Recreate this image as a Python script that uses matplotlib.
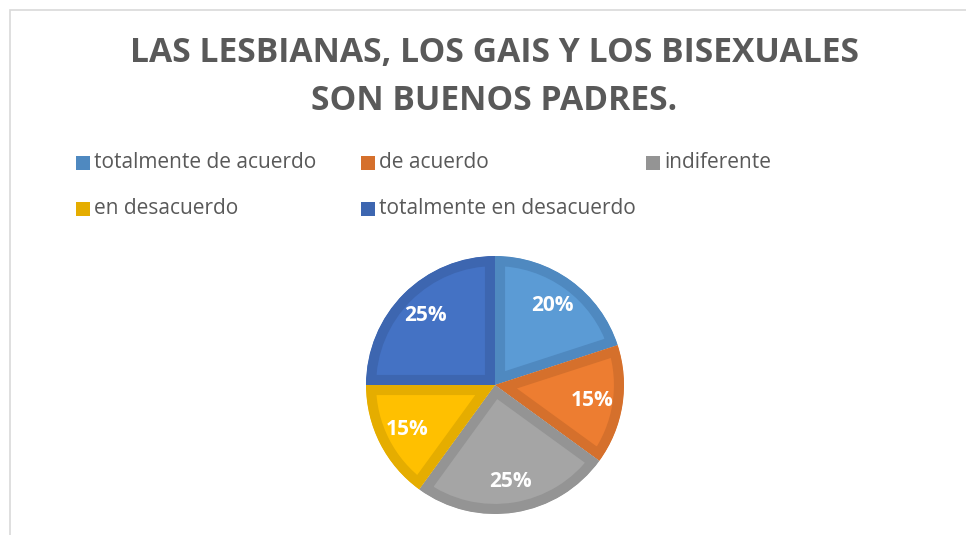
import matplotlib
matplotlib.use("Agg")
import matplotlib.pyplot as plt
from matplotlib.patches import Rectangle

# data
labels = ["totalmente de acuerdo", "de acuerdo", "indiferente",
          "en desacuerdo", "totalmente en desacuerdo"]
values = [20, 15, 25, 15, 25]
colors = ["#5B9BD5", "#ED7D31", "#A5A5A5", "#FFC000", "#4472C4"]
edge_colors = ["#4F89C0", "#D5702C", "#949494", "#E5AD00", "#3D66B0"]
title_lines = ["LAS LESBIANAS, LOS GAIS Y LOS BISEXUALES", "SON BUENOS PADRES."]

W, H = 966, 535
fig = plt.figure(figsize=(W / 100, H / 100), dpi=100)
fig.patch.set_facecolor("white")

# light gray chart frame (runs off the right and bottom edges)
fig.add_artist(Rectangle((10 / W, -0.05), 1.1, (H - 10) / H + 0.05,
                         transform=fig.transFigure, fill=False,
                         edgecolor="#D9D9D9", linewidth=1.2))

# title
fig.text(494 / W, 1 - 53 / H, title_lines[0], ha="center", va="center",
         fontsize=24.2, fontweight="bold", color="#595959", family="Open Sans")
fig.text(494 / W, 1 - 101 / H, title_lines[1], ha="center", va="center",
         fontsize=24.2, fontweight="bold", color="#595959", family="Open Sans")

# legend, 3 columns
for i, (lab, col) in enumerate(zip(labels, edge_colors)):
    cx = 76 + (i % 3) * 285
    cy = 163 + (i // 3) * 46
    fig.add_artist(Rectangle((cx / W, 1 - (cy + 7) / H), 14 / W, 14 / H,
                             transform=fig.transFigure, color=col, linewidth=0))
    fig.text((cx + 18) / W, 1 - (cy - 1) / H, lab, ha="left", va="center",
             fontsize=15, color="#595959", family="Open Sans")

# pie
cx, cy, r = 495, 385, 129
ax = fig.add_axes([(cx - r) / W, 1 - (cy + r) / H, 2 * r / W, 2 * r / H])
wedges, texts, autotexts = ax.pie(values, colors=colors, startangle=90,
                                  counterclock=False, autopct="%1.0f%%",
                                  pctdistance=0.76,
                                  wedgeprops=dict(linewidth=14.5),
                                  textprops=dict(color="white", fontsize=15,
                                                 fontweight="bold",
                                                 family="Open Sans"))
# keep the thick border inside each slice, like Excel's inner outline
for w, ec in zip(wedges, edge_colors):
    w.set_edgecolor(ec)
    w.set_joinstyle("miter")
    w.set_clip_on(True)
    w.set_clip_path(w)
ax.set_xlim(-1, 1)
ax.set_ylim(-1, 1)
ax.set_aspect("equal")
ax.axis("off")

fig.savefig("out.png", dpi=100)
